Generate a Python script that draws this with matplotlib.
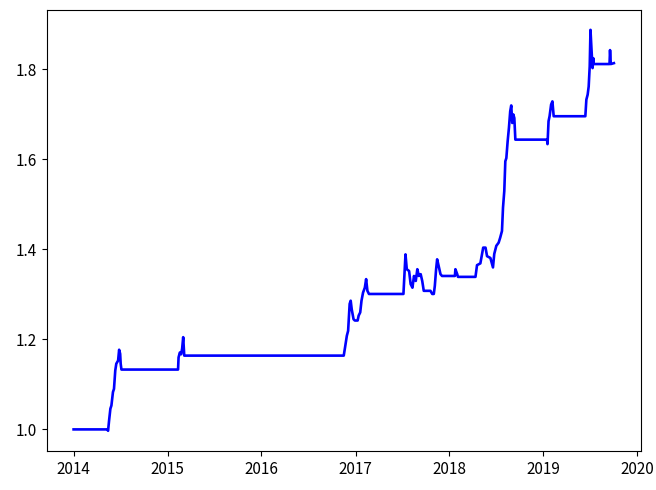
import numpy as np
import pandas as pd
import matplotlib
matplotlib.use("Agg")
import matplotlib.pyplot as plt

plt.rcParams['font.family'] = ['Noto Sans CJK SC', 'DejaVu Sans']
plt.rcParams['axes.unicode_minus'] = False

# net value curve
dates = [
    "2014-01-01", "2014-05-12", "2014-05-15", "2014-05-19", "2014-05-24", "2014-05-28",
    "2014-06-03", "2014-06-07", "2014-06-12", "2014-06-16", "2014-06-23", "2014-06-27",
    "2014-07-01", "2014-07-03", "2014-07-06",
    "2015-02-11", "2015-02-13", "2015-02-18", "2015-02-23", "2015-02-27", "2015-03-03",
    "2015-03-06", "2015-03-07",
    "2016-11-16", "2016-11-21", "2016-11-28", "2016-12-03", "2016-12-09", "2016-12-13",
    "2016-12-17", "2016-12-24", "2016-12-29", "2017-01-09", "2017-01-13", "2017-01-19",
    "2017-01-24", "2017-01-30", "2017-02-06", "2017-02-11", "2017-02-16", "2017-02-22",
    "2017-07-06", "2017-07-14", "2017-07-19", "2017-07-28", "2017-08-03", "2017-08-10",
    "2017-08-16", "2017-08-23", "2017-08-29", "2017-09-04", "2017-09-11", "2017-09-17",
    "2017-09-23", "2017-09-30", "2017-10-19", "2017-10-26", "2017-11-01", "2017-11-05",
    "2017-11-10", "2017-11-14", "2017-11-20", "2017-11-27", "2017-12-03",
    "2018-01-22", "2018-01-24", "2018-01-31", "2018-02-03",
    "2018-04-12", "2018-04-18", "2018-05-01", "2018-05-12", "2018-05-21", "2018-05-27",
    "2018-06-09", "2018-06-19", "2018-06-24", "2018-07-02", "2018-07-11", "2018-07-17",
    "2018-07-24", "2018-07-28", "2018-08-02", "2018-08-06", "2018-08-10", "2018-08-15",
    "2018-08-20", "2018-08-25", "2018-08-29", "2018-09-02", "2018-09-06", "2018-09-10",
    "2018-09-14",
    "2019-01-15", "2019-01-17", "2019-01-21", "2019-01-25", "2019-01-31", "2019-02-05",
    "2019-02-10",
    "2019-06-13", "2019-06-17", "2019-06-22", "2019-06-26", "2019-06-30", "2019-07-03",
    "2019-07-07", "2019-07-11", "2019-07-14", "2019-07-16",
    "2019-09-15", "2019-09-17", "2019-09-20", "2019-10-02",
]
values = [
    1.000, 1.000, 0.997, 1.020, 1.046, 1.053,
    1.083, 1.090, 1.131, 1.146, 1.153, 1.177,
    1.168, 1.146, 1.133,
    1.133, 1.160, 1.171, 1.167, 1.180, 1.205,
    1.175, 1.164,
    1.164, 1.182, 1.208, 1.219, 1.279, 1.286,
    1.267, 1.245, 1.242, 1.242, 1.253, 1.260,
    1.286, 1.304, 1.315, 1.334, 1.308, 1.301,
    1.301, 1.389, 1.356, 1.352, 1.323, 1.315,
    1.341, 1.330, 1.356, 1.341, 1.345, 1.330,
    1.308, 1.308, 1.308, 1.301, 1.301, 1.319,
    1.356, 1.378, 1.363, 1.345, 1.341,
    1.341, 1.356, 1.345, 1.339,
    1.339, 1.365, 1.369, 1.404, 1.404, 1.385,
    1.381, 1.360, 1.390, 1.408, 1.415, 1.426,
    1.441, 1.493, 1.530, 1.596, 1.603, 1.640,
    1.670, 1.707, 1.720, 1.681, 1.700, 1.692,
    1.644,
    1.644, 1.634, 1.685, 1.696, 1.722, 1.729,
    1.696,
    1.696, 1.733, 1.744, 1.762, 1.807, 1.888,
    1.844, 1.803, 1.825, 1.812,
    1.812, 1.843, 1.812, 1.814,
]

x = pd.to_datetime(dates)
y = np.array(values)

fig = plt.figure(figsize=(6.56, 4.9), dpi=100)
ax = fig.add_axes([0.071, 0.080, 0.906, 0.900])
ax.plot(x, y, color='blue', linewidth=1.9)
ax.set_yticks([1.0, 1.2, 1.4, 1.6, 1.8])
ax.tick_params(labelsize=11)

fig.savefig("out.png", dpi=100)
